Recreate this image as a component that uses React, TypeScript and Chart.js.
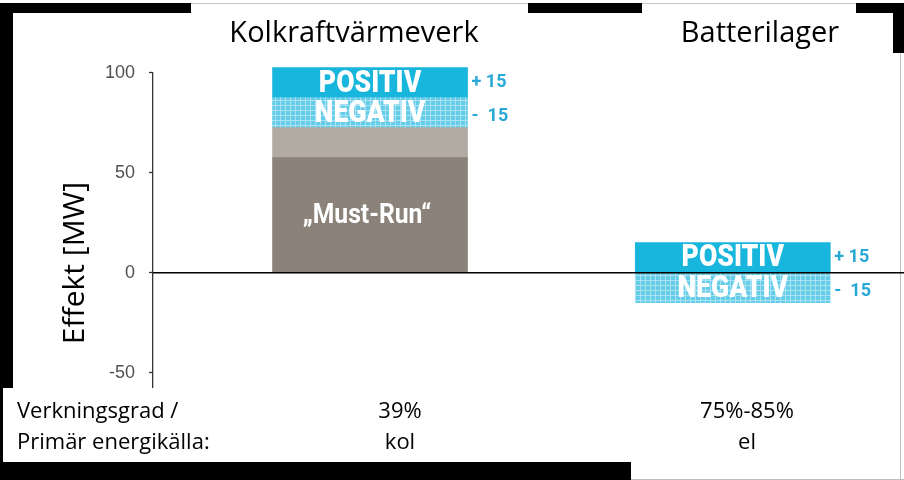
import React, { useEffect, useRef } from 'react';
import { Chart, registerables } from 'chart.js';

Chart.register(...registerables);

// ---------------- data ----------------
const categories = ['Kolkraftvärmeverk', 'Batterilager'];
const mustRunMW = [57.5, 0];
const reserveMW = [15, 0];
const negativMW = [15, -15];
const positivMW = [15, 15];
const yTickValues = [100, 50, 0, -50];
const mustRunText = ['„Must-Run“', ''];
const negativText = ['NEGATIV', 'NEGATIV'];
const positivText = ['POSITIV', 'POSITIV'];
const positivSide = ['+ 15', '+ 15'];
const negativSide = ['-  15', '-  15'];
const rowTitles = ['Verkningsgrad /', 'Primär energikälla:'];
const efficiency = ['39%', '75%-85%'];
const energySource = ['kol', 'el'];
const axisTitle = 'Effekt [MW]';

// ---------------- layout / style ----------------
const W = 904;
const H = 480;
const SLOTS = [2.89, 7.72]; // category slots on a hidden 0..10 axis
const HEADER_X = [354, 760];
const VALUE_X = [400, 747];
const TEXT_FONT = "'Open Sans', 'DejaVu Sans', sans-serif";
const BAR_FONT = "Roboto, 'Liberation Sans', sans-serif";
const CYAN = '#18b5dc';
const SIDE_CYAN = '#27a8d6';

function drawCondensed(ctx: CanvasRenderingContext2D, text: string, x: number, y: number, font: string, sx: number, sy: number) {
  ctx.save();
  ctx.translate(x, y);
  ctx.scale(sx, sy);
  ctx.font = font;
  ctx.textAlign = 'center';
  ctx.textBaseline = 'middle';
  ctx.fillText(text, 0, 0);
  ctx.restore();
}

const overlay = {
  id: 'overlay',
  afterDatasetsDraw(chart: any) {
    const { ctx, chartArea, scales } = chart;
    const y = scales.y;
    const y0 = y.getPixelForValue(0);
    ctx.save();
    // zero line
    ctx.strokeStyle = '#000';
    ctx.lineWidth = 1.5;
    ctx.beginPath();
    ctx.moveTo(chartArea.left, y0);
    ctx.lineTo(chartArea.right, y0);
    ctx.stroke();

    const texts = [mustRunText, null, negativText, positivText];
    ctx.fillStyle = '#fff';
    texts.forEach((arr, di) => {
      if (!arr) return;
      const meta = chart.getDatasetMeta(di);
      meta.data.forEach((bar: any, j: number) => {
        const t = arr[j];
        if (!t) return;
        const mid = (bar.y + bar.base) / 2;
        if (di === 0) {
          drawCondensed(ctx, t, bar.x - 3, mid + 1, `bold 26px ${BAR_FONT}`, 0.95, 1.05);
        } else {
          drawCondensed(ctx, t, bar.x, mid + 1, `900 28px ${BAR_FONT}`, 0.95, 1.12);
        }
      });
    });

    // side labels
    ctx.fillStyle = SIDE_CYAN;
    ctx.font = `bold 18px ${BAR_FONT}`;
    ctx.textAlign = 'left';
    ctx.textBaseline = 'middle';
    [[2, negativSide, 4], [3, positivSide, 0]].forEach(([di, arr, dy]: any) => {
      const meta = chart.getDatasetMeta(di);
      meta.data.forEach((bar: any, j: number) => {
        const mid = (bar.y + bar.base) / 2;
        ctx.fillText(arr[j], bar.x + bar.width / 2 + 4, mid + dy);
      });
    });

    // headers
    ctx.fillStyle = '#000';
    ctx.textBaseline = 'alphabetic';
    ctx.textAlign = 'center';
    ctx.font = `29px ${TEXT_FONT}`;
    categories.forEach((c, i) => ctx.fillText(c, HEADER_X[i], 42));

    // bottom rows
    ctx.font = `22px ${TEXT_FONT}`;
    ctx.textAlign = 'left';
    ctx.fillText(rowTitles[0], 17, 418);
    ctx.fillText(rowTitles[1], 17, 449);
    ctx.textAlign = 'center';
    efficiency.forEach((t, i) => ctx.fillText(t, VALUE_X[i], 418));
    energySource.forEach((t, i) => ctx.fillText(t, VALUE_X[i], 449));

    // axis title
    ctx.save();
    ctx.translate(84, 263);
    ctx.rotate(-Math.PI / 2);
    ctx.font = `30px ${TEXT_FONT}`;
    ctx.textAlign = 'center';
    ctx.textBaseline = 'alphabetic';
    ctx.fillText(axisTitle, 0, 0);
    ctx.restore();

    ctx.restore();
  },
};

const frame: Array<[number, number, number, number]> = [
  [0, 3, 191, 10],
  [528, 3, 114, 10],
  [856, 3, 48, 10],
  [0, 13, 13, 375],
  [893, 13, 11, 40],
  [0, 388, 3, 74],
  [0, 462, 631, 18],
];

export default function App() {
  const ref = useRef<HTMLCanvasElement>(null);
  useEffect(() => {
    const canvas = ref.current as HTMLCanvasElement;
    const c2d = canvas.getContext('2d') as CanvasRenderingContext2D;
    const pc = document.createElement('canvas');
    pc.width = 5;
    pc.height = 5;
    const p = pc.getContext('2d') as CanvasRenderingContext2D;
    p.fillStyle = '#66cde9';
    p.fillRect(0, 0, 5, 5);
    p.fillStyle = '#a9e2f3';
    p.fillRect(0, 0, 5, 1);
    p.fillRect(0, 0, 1, 5);
    const hatch = c2d.createPattern(pc, 'repeat');

    const common = { barThickness: 195, borderWidth: 0, clip: false };
    const chart = new Chart(canvas, {
      type: 'bar',
      data: {
        labels: SLOTS,
        datasets: [
          { label: 'Must-Run', data: mustRunMW, backgroundColor: '#8b837a', ...common },
          { label: 'Reserv', data: reserveMW, backgroundColor: '#b2aba3', ...common },
          { label: 'NEGATIV', data: negativMW, backgroundColor: hatch as any, ...common },
          { label: 'POSITIV', data: positivMW, backgroundColor: CYAN, ...common },
        ],
      },
      options: {
        responsive: false,
        animation: false,
        devicePixelRatio: 1,
        layout: { padding: { top: 72.7, bottom: 92.3, left: 0, right: 0 } },
        plugins: { legend: { display: false }, tooltip: { enabled: false } },
        scales: {
          x: {
            type: 'linear',
            min: 0,
            max: 10,
            offset: false,
            stacked: true,
            display: false,
            grid: { offset: false },
          },
          y: {
            stacked: true,
            min: -57.5,
            max: 100,
            afterFit: (s: any) => {
              s.width = 153;
            },
            afterBuildTicks: (s: any) => {
              s.ticks = yTickValues.map((v) => ({ value: v }));
            },
            border: { display: true, color: '#333', width: 1.3 },
            grid: { drawOnChartArea: false, drawTicks: true, tickLength: 4, tickColor: '#333', tickWidth: 1.3 },
            ticks: { padding: 14, color: '#505050', font: { family: "'Liberation Sans', Arial, sans-serif", size: 18 } },
          },
        },
      } as any,
      plugins: [overlay],
    });
    return () => chart.destroy();
  }, []);

  return (
    <div style={{ position: 'fixed', left: 0, top: 0, width: W, height: H, background: '#fff', overflow: 'hidden' }}>
      <div style={{ position: 'absolute', left: 0, top: 3, width: W, height: 1, background: '#c8c8c8' }} />
      <div style={{ position: 'absolute', left: 900, top: 53, width: 1, height: H - 53, background: '#bdbdbd' }} />
      <div style={{ position: 'absolute', left: 631, top: 479, width: W - 631, height: 1, background: '#bdbdbd' }} />
      {frame.map(([l, t, w, h], i) => (
        <div key={i} style={{ position: 'absolute', left: l, top: t, width: w, height: h, background: '#000' }} />
      ))}
      <canvas ref={ref} width={W} height={H} style={{ position: 'absolute', left: 0, top: 0 }} />
    </div>
  );
}
